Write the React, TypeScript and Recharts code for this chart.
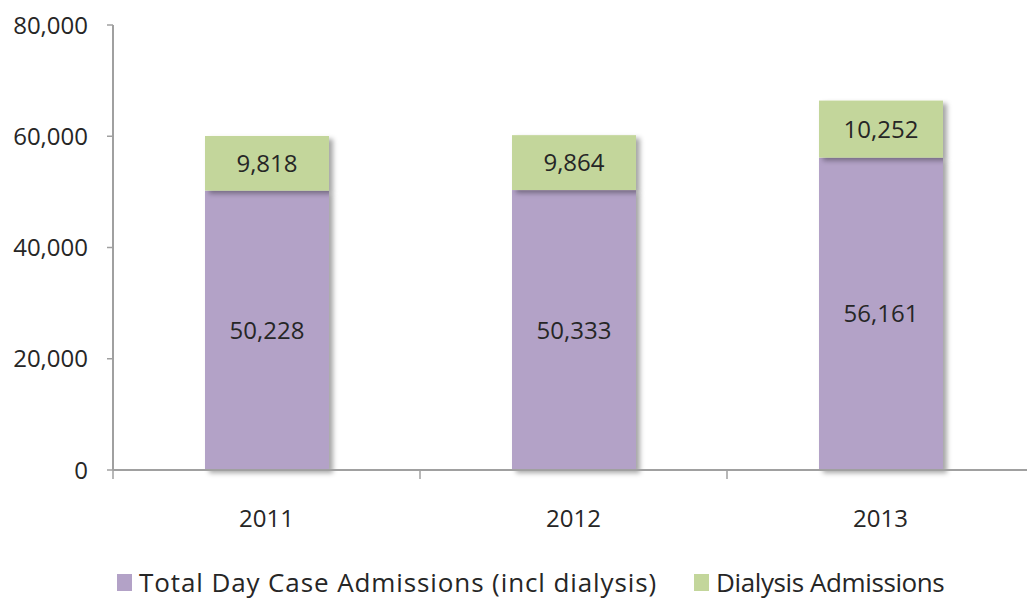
import { BarChart, Bar, XAxis, YAxis, Legend, LabelList } from "recharts";

const years = ["2011", "2012", "2013"];
const totalDayCase = [50228, 50333, 56161];
const dialysis = [9818, 9864, 10252];
const yTicks = [0, 20000, 40000, 60000, 80000];
const boundaryTicks = [0, 1, 2, 3];

const seriesNames = {
  total: "Total Day Case Admissions (incl dialysis)",
  dialysis: "Dialysis Admissions",
};
const legendOrder = [seriesNames.total, seriesNames.dialysis];

const data = years.map((year, i) => ({
  year,
  total: totalDayCase[i],
  dialysis: dialysis[i],
}));

const FONT = "'Open Sans', sans-serif";
const TEXT = "#262626";
const AXIS = "#a0a0a0";

const fmt = (v: number) => v.toLocaleString("en-US");

function ShadowRect(props: any) {
  const { x, y, width, height, fill } = props;
  return (
    <rect
      x={x}
      y={y}
      width={width}
      height={height}
      fill={fill}
      filter="url(#barShadow)"
    />
  );
}

function LegendContent({ payload }: any) {
  const items = [...(payload || [])].sort(
    (a: any, b: any) => legendOrder.indexOf(a.value) - legendOrder.indexOf(b.value)
  );
  return (
    <div
      style={{
        display: "flex",
        alignItems: "center",
        paddingLeft: 117,
        fontFamily: FONT,
        fontSize: 26,
        color: TEXT,
        height: 30,
        whiteSpace: "nowrap",
      }}
    >
      {items.map((item: any, i: number) => (
        <div
          key={item.value}
          style={{
            display: "flex",
            alignItems: "center",
            marginRight: i === 0 ? 37 : 0,
          }}
        >
          <span
            style={{
              display: "inline-block",
              width: 15,
              height: 17,
              background: item.color,
              marginRight: 7,
            }}
          />
          <span style={{ letterSpacing: i === 0 ? 0.9 : -0.4 }}>{item.value}</span>
        </div>
      ))}
    </div>
  );
}

export default function App() {
  return (
    <div
      style={{
        position: "fixed",
        left: 0,
        top: 0,
        width: 1027,
        height: 602,
        overflow: "hidden",
        background: "#fff",
      }}
    >
      <svg width={0} height={0} style={{ position: "absolute" }}>
        <defs>
          <filter id="barShadow" x="-20%" y="-20%" width="140%" height="140%">
            <feDropShadow
              dx={4}
              dy={3}
              stdDeviation={2.5}
              floodColor="#000"
              floodOpacity={0.35}
            />
          </filter>
        </defs>
      </svg>
      <BarChart
        width={1040}
        height={602}
        data={data}
        margin={{ top: 25, right: 6, left: 0, bottom: 5 }}
      >
        {/* baseline plus boundary ticks between the year categories */}
        <XAxis
          type="number"
          dataKey={() => 0}
          domain={[0, 3]}
          ticks={boundaryTicks}
          tickFormatter={() => ""}
          tick={{ fill: "none", fontSize: 1 }}
          tickSize={9}
          axisLine={{ stroke: AXIS, strokeWidth: 2 }}
          tickLine={{ stroke: AXIS, strokeWidth: 1.5 }}
          height={1}
        />
        <XAxis
          xAxisId="cat"
          dataKey="year"
          axisLine={false}
          tickLine={false}
          tickMargin={33}
          height={96}
          tick={{ fill: TEXT, fontSize: 24, fontFamily: FONT }}
        />
        <YAxis
          domain={[0, 80000]}
          ticks={yTicks}
          width={113}
          tickSize={6}
          tickMargin={19}
          tickFormatter={fmt}
          axisLine={{ stroke: AXIS, strokeWidth: 2 }}
          tickLine={{ stroke: AXIS, strokeWidth: 1.5 }}
          tick={{ fill: TEXT, fontSize: 24, fontFamily: FONT }}
        />
        <Legend
          verticalAlign="bottom"
          wrapperStyle={{ left: 0, width: 1027 }}
          content={<LegendContent />}
        />
        <Bar
          xAxisId="cat"
          dataKey="total"
          name={seriesNames.total}
          stackId="a"
          fill="#b3a2c7"
          barSize={124}
          shape={<ShadowRect />}
          isAnimationActive={false}
        >
          <LabelList
            dataKey="total"
            position="center"
            formatter={(v: any) => fmt(Number(v))}
            style={{ fill: TEXT, fontSize: 24, fontFamily: FONT }}
          />
        </Bar>
        <Bar
          xAxisId="cat"
          dataKey="dialysis"
          name={seriesNames.dialysis}
          stackId="a"
          fill="#c3d69b"
          barSize={124}
          shape={<ShadowRect />}
          isAnimationActive={false}
        >
          <LabelList
            dataKey="dialysis"
            position="center"
            formatter={(v: any) => fmt(Number(v))}
            style={{ fill: TEXT, fontSize: 24, fontFamily: FONT }}
          />
        </Bar>
      </BarChart>
    </div>
  );
}
